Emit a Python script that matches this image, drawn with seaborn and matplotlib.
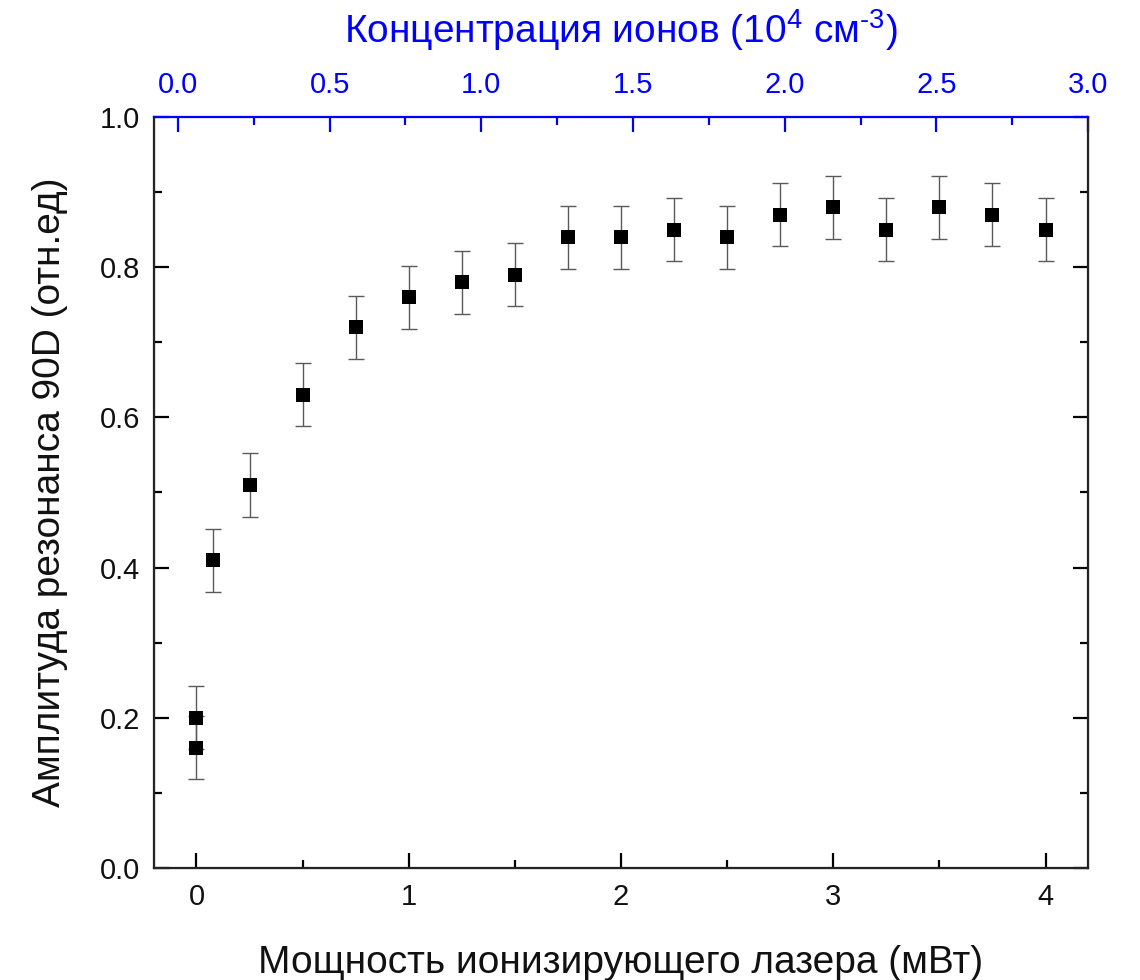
import numpy as np
import pandas as pd
import matplotlib
matplotlib.use("Agg")
import matplotlib.pyplot as plt
import seaborn as sns
from matplotlib.ticker import MultipleLocator

# Laser power (mW), resonance amplitude (arb. units) and its uncertainty
power = [0.0, 0.0, 0.08, 0.25, 0.5, 0.75, 1.0, 1.25, 1.5, 1.75, 2.0,
         2.25, 2.5, 2.75, 3.0, 3.25, 3.5, 3.75, 4.0]
amplitude = [0.20, 0.16, 0.41, 0.51, 0.63, 0.72, 0.76, 0.78, 0.79, 0.84, 0.84,
             0.85, 0.84, 0.87, 0.88, 0.85, 0.88, 0.87, 0.85]
amp_err = [0.042] * len(power)

x_ticks = [0, 1, 2, 3, 4]
y_ticks = [0.0, 0.2, 0.4, 0.6, 0.8, 1.0]
top_ticks = [0.0, 0.5, 1.0, 1.5, 2.0, 2.5, 3.0]

xlabel = "Мощность ионизирующего лазера (мВт)"
ylabel = "Амплитуда резонанса 90D (отн.ед)"
toplabel = "Концентрация ионов (10$^{4}$ см$^{\u20103}$)"

df = pd.DataFrame({"power": power, "amplitude": amplitude, "err": amp_err})

sns.set_style("ticks")
plt.rcParams["font.family"] = ["Liberation Sans", "DejaVu Sans"]
plt.rcParams["mathtext.fontset"] = "custom"
plt.rcParams["mathtext.rm"] = "Liberation Sans"
plt.rcParams["mathtext.it"] = "Liberation Sans"

TICK_FS = 21
LABEL_FS = 28

fig = plt.figure(figsize=(11.4, 9.8), dpi=100)
ax = fig.add_axes([0.1351, 0.1143, 0.9544 - 0.1351, 0.8806 - 0.1143])

ax.errorbar(df["power"], df["amplitude"], yerr=df["err"], fmt="none",
            ecolor="#5a5a5a", elinewidth=1.0, capsize=5.5, capthick=1.0, zorder=2)
sns.scatterplot(data=df, x="power", y="amplitude", marker="s", s=105,
                color="black", linewidth=0, ax=ax, zorder=3)

ax.set_xlim(-0.2, 4.2)
ax.set_ylim(0.0, 1.0)
ax.set_xticks(x_ticks)
ax.set_yticks(y_ticks)
ax.set_xticklabels([str(t) for t in x_ticks])
ax.set_yticklabels([f"{t:.1f}" for t in y_ticks])
ax.xaxis.set_minor_locator(MultipleLocator(0.5))
ax.yaxis.set_minor_locator(MultipleLocator(0.1))
ax.tick_params(which="both", direction="in", color="black", width=1.6,
               labelsize=TICK_FS, labelcolor="#111111", top=False, right=True)
ax.tick_params(axis="x", pad=11)
ax.tick_params(axis="y", pad=10)
ax.tick_params(which="major", length=10.5)
ax.tick_params(which="minor", length=6)
ax.set_xlabel(xlabel, fontsize=LABEL_FS, labelpad=24, color="#111111")
ax.set_ylabel(ylabel, fontsize=LABEL_FS, labelpad=23, color="#111111")
for side in ["left", "right", "bottom"]:
    ax.spines[side].set_linewidth(1.6)
    ax.spines[side].set_color("#222222")
    ax.spines[side].set_visible(True)

# Secondary scale: ion concentration
ax2 = ax.twiny()
ax2.set_xlim(-0.079, 3.0)
ax2.set_xticks(top_ticks)
ax2.set_xticklabels([f"{t:.1f}" for t in top_ticks])
ax2.xaxis.set_minor_locator(MultipleLocator(0.25))
ax2.tick_params(axis="x", which="both", direction="in", color="blue", width=1.6,
                labelcolor="blue", labelsize=TICK_FS, pad=13)
ax2.tick_params(axis="x", which="major", length=10.5)
ax2.tick_params(axis="x", which="minor", length=6)
ax2.spines["top"].set_color("blue")
ax2.spines["top"].set_linewidth(1.6)
ax2.set_xlabel(toplabel, fontsize=LABEL_FS, color="blue", labelpad=20)
ax.spines["top"].set_visible(False)

fig.savefig("out.png", dpi=100)
